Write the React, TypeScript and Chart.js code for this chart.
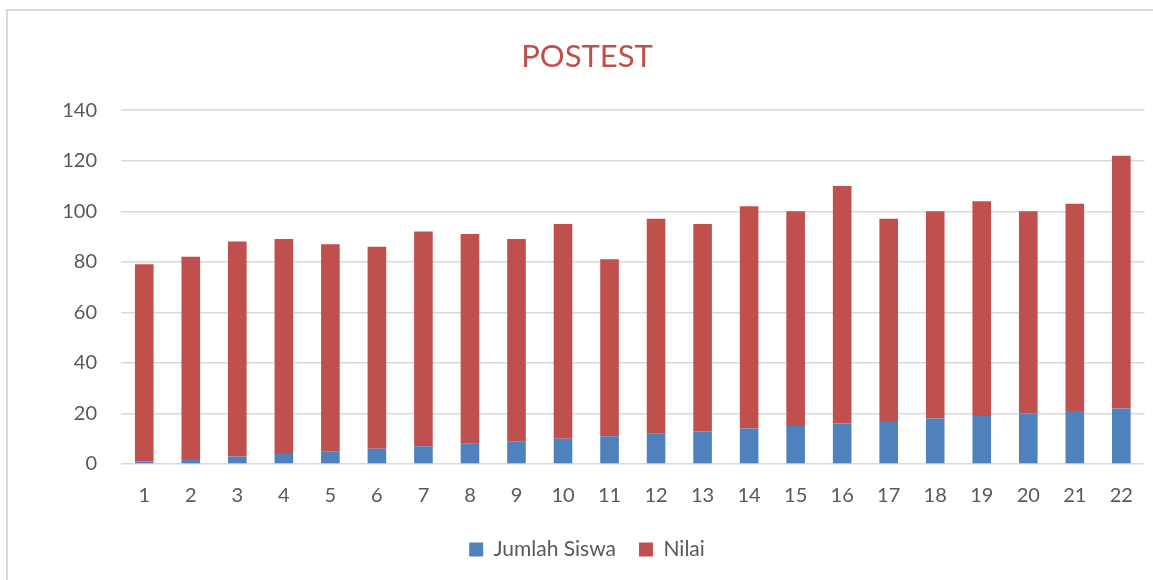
import React, { useEffect, useRef } from "react";
import { Chart, registerables } from "chart.js";

Chart.register(...registerables);

const categories = ["1","2","3","4","5","6","7","8","9","10","11","12","13","14","15","16","17","18","19","20","21","22"];
const jumlahSiswa = [1,2,3,4,5,6,7,8,9,10,11,12,13,14,15,16,17,18,19,20,21,22];
const nilai = [78,80,85,85,82,80,85,83,80,85,70,85,82,88,85,94,80,82,85,80,82,100];
const titleText = "POSTEST";
const seriesNames = ["Jumlah Siswa", "Nilai"];

const FONT = "Lato, 'Open Sans', sans-serif";

export default function App() {
  const ref = useRef<HTMLCanvasElement | null>(null);

  useEffect(() => {
    if (!ref.current) return;
    const chart = new Chart(ref.current, {
      type: "bar",
      data: {
        labels: categories,
        datasets: [
          {
            label: seriesNames[0],
            data: jumlahSiswa,
            backgroundColor: "#4F81BD",
            barPercentage: 0.4,
            categoryPercentage: 1,
          },
          {
            label: seriesNames[1],
            data: nilai,
            backgroundColor: "#C0504D",
            barPercentage: 0.4,
            categoryPercentage: 1,
          },
        ],
      },
      options: {
        responsive: false,
        animation: false,
        layout: { padding: { left: 24, right: 3, top: 10, bottom: 10 } },
        plugins: {
          title: {
            display: true,
            text: titleText,
            color: "#C0504D",
            font: { family: FONT, size: 31, weight: "normal" },
            padding: { top: 28, bottom: 35 },
          },
          legend: {
            position: "bottom",
            labels: {
              color: "#595959",
              font: { family: FONT, size: 21 },
              boxWidth: 14,
              boxHeight: 14,
              padding: 23,
            },
          },
          tooltip: { enabled: false },
        },
        scales: {
          x: {
            stacked: true,
            grid: { display: false, drawTicks: false },
            border: { display: false },
            ticks: {
              color: "#595959",
              font: { family: FONT, size: 20 },
              padding: 20,
              maxRotation: 0,
              autoSkip: false,
            },
            afterFit: (scale: any) => {
              scale.height = 52;
            },
          },
          y: {
            stacked: true,
            min: 0,
            max: 140,
            grid: { color: "#d9d9d9", lineWidth: 1.5, drawTicks: false },
            border: { display: false },
            ticks: {
              stepSize: 20,
              color: "#595959",
              font: { family: FONT, size: 20 },
              padding: 24,
            },
            afterFit: (scale: any) => {
              scale.width = 97;
            },
          },
        },
      },
    });
    return () => chart.destroy();
  }, []);

  return (
    <div style={{ position: "absolute", left: 0, top: 0, width: 1153, height: 580, background: "#fff", overflow: "hidden" }}>
      <div
        style={{
          position: "absolute",
          left: 6,
          top: 9,
          width: 1160,
          height: 600,
          border: "2px solid #d9d9d9",
          boxSizing: "border-box",
        }}
      />
      <canvas ref={ref} width={1153} height={580} style={{ position: "absolute", left: 0, top: 0 }} />
    </div>
  );
}
